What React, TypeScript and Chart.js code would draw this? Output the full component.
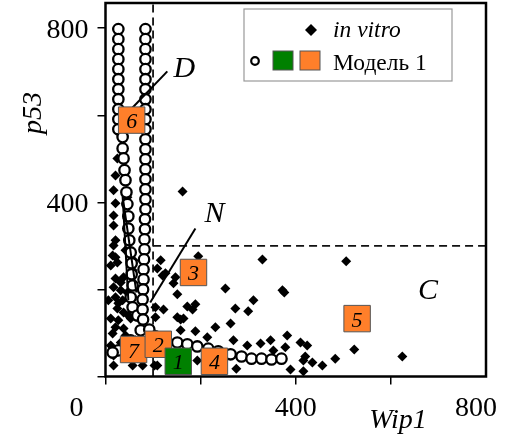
import React, { useEffect, useRef } from 'react';
import { Chart, registerables } from 'chart.js';
Chart.register(...registerables);

const FONT = '"Liberation Serif", "Times New Roman", serif';

// axis ranges and ticks
const X_MAX = 800;
const Y_MAX = 858;
const xTickValues = [0, 200, 400, 600];
const yTickValues = [0, 200, 400, 600, 800];
const xTickLabels = ['0', '400', '800'];
const xTickLabelValues = [0, 400, 800];
const yTickLabels = ['800', '400'];
const yTickLabelValues = [800, 400];

// in vitro measurements
const vitroWip1 = [
  162, 116, 195, 330, 506, 126, 147, 143, 252, 372, 376, 151, 311, 172, 189, 183, 273, 300, 158, 263,
  231, 189, 158, 214, 269, 382, 326, 347, 298, 410, 424, 378, 353, 420, 416, 435, 456, 483, 523, 624,
  389, 416, 275, 103, 193, 122, 164, 105, 105, 151, 109, 78, 57, 17,
  25, 21, 17, 46, 21, 17, 17, 21, 17, 21, 25, 21, 38, 57, 109, 120, 17, 32, 21, 36,
  25, 38, 11, 27, 48, 21, 38, 15, 11, 17, 48, 42, 59,
  32, 46, 27, 53, 42, 63, 32, 6, 11, 15,
];
const vitroP53 = [
  425, 267, 276, 269, 265, 237, 228, 214, 202, 198, 193, 189, 175, 161, 166, 154, 156, 150, 131, 122,
  113, 104, 106, 90, 83, 94, 76, 83, 71, 78, 71, 67, 60, 46, 37, 32, 25, 41, 62, 46,
  16, 12, 18, 25, 37, 154, 133, 159, 136, 136, 25, 25, 25, 25,
  501, 462, 428, 412, 398, 370, 347, 313, 301, 274, 262, 225, 228, 244, 248, 232, 205, 198, 182, 175,
  156, 147, 133, 129, 140, 113, 110, 99, 71, 48, 336, 290, 267,
  216, 193, 168, 133, 94, 83, 78, 175, 255, 278,
];

// model trajectory 1 (right column, then along the bottom)
const modelAWip1 = [
  84, 84, 84, 84, 84, 84, 84, 84, 84, 84, 84, 84, 84, 84, 84, 84, 84, 84, 84, 83,
  83, 82, 82, 81, 80, 80, 79, 78, 78, 79,
  92, 105, 126, 151, 172, 193, 216, 237, 263, 286, 307, 328, 349, 370,
];
const modelAP53 = [
  798, 775, 752, 729, 706, 683, 660, 637, 614, 591, 568, 545, 522, 499, 476, 453, 430, 407, 384, 361,
  338, 315, 292, 269, 246, 223, 200, 177, 154, 131,
  108, 92, 83, 78, 74, 69, 64, 58, 51, 46, 41, 41, 39, 41,
];
// model trajectory 2 (left column)
const modelBWip1 = [
  27, 27, 27, 27, 27, 27, 27, 27, 27, 27, 27, 36, 36, 38, 40, 42, 44, 46, 48, 48,
  50, 53, 55, 55, 57, 53, 57, 67, 74, 53, 27, 15,
];
const modelBP53 = [
  798, 775, 752, 729, 706, 683, 660, 637, 614, 591, 568, 550, 524, 501, 474, 451, 423, 396, 368, 340,
  313, 285, 260, 235, 209, 182, 159, 140, 106, 83, 60, 55,
];

// numbered model states
const boxLabels = ['6', '3', '7', '2', '1', '4', '5'];
const boxWip1 = [55, 185, 59, 111, 153, 229, 529];
const boxP53 = [589, 239, 62, 74, 35, 35, 133];
const boxKinds = ['o', 'o', 'o', 'o', 'g', 'o', 'o'];

// region labels
const regionLabels = ['D', 'N', 'C'];
const regionWip1 = [166, 229, 678];
const regionP53 = [710, 377, 202];

// annotation lines
const lineDWip1 = [130, 50];
const lineDP53 = [701, 610];
const lineNWip1 = [189, 94];
const lineNP53 = [340, 170];
const lineVWip1 = [48, 36, 65];
const lineVP53 = [175, 414, 193];

// threshold dashed lines
const thrWip1 = 100;
const thrP53 = 300;

const ORANGE = '#FF7F2A';
const GREEN = '#008000';

const pts = (xs: number[], ys: number[]) => xs.map((x, i) => ({ x, y: ys[i] }));

export default function App() {
  const ref = useRef<HTMLCanvasElement | null>(null);
  useEffect(() => {
    if (!ref.current) return;
    const overlay = {
      id: 'overlay',
      afterDatasetsDraw(chart: any) {
        const { ctx, chartArea: a, scales } = chart;
        const x = scales.x;
        const y = scales.y;
        ctx.save();
        ctx.fillStyle = '#000';
        ctx.textAlign = 'center';
        ctx.textBaseline = 'alphabetic';
        // numbers inside boxes
        ctx.font = `italic 22px ${FONT}`;
        boxLabels.forEach((t, i) => {
          ctx.fillText(t, x.getPixelForValue(boxWip1[i]), y.getPixelForValue(boxP53[i]) + 8);
        });
        // region labels
        ctx.font = `italic 30px ${FONT}`;
        regionLabels.forEach((t, i) => {
          ctx.fillText(t, x.getPixelForValue(regionWip1[i]), y.getPixelForValue(regionP53[i]) + 10);
        });
        // frame
        ctx.lineWidth = 2.5;
        ctx.strokeStyle = '#000';
        ctx.strokeRect(a.left, a.top, a.right - a.left, a.bottom - a.top);

        // legend
        const lx = 244, ly = 9, lw = 208, lh = 72;
        ctx.fillStyle = '#fff';
        ctx.fillRect(lx, ly, lw, lh);
        ctx.lineWidth = 1.2;
        ctx.strokeStyle = '#999';
        ctx.strokeRect(lx, ly, lw, lh);
        // row 1 diamond
        ctx.fillStyle = '#000';
        ctx.beginPath();
        ctx.moveTo(311, 24);
        ctx.lineTo(317, 30);
        ctx.lineTo(311, 36);
        ctx.lineTo(305, 30);
        ctx.closePath();
        ctx.fill();
        ctx.textAlign = 'left';
        ctx.font = `italic 23.5px ${FONT}`;
        ctx.fillText('in vitro', 333, 37);
        // row 2
        ctx.beginPath();
        ctx.arc(255, 61, 3.8, 0, Math.PI * 2);
        ctx.fillStyle = '#fff';
        ctx.fill();
        ctx.lineWidth = 2.2;
        ctx.strokeStyle = '#000';
        ctx.stroke();
        ctx.lineWidth = 1;
        ctx.strokeStyle = '#555';
        ctx.fillStyle = GREEN;
        ctx.fillRect(273, 51, 20, 19);
        ctx.strokeRect(273, 51, 20, 19);
        ctx.fillStyle = ORANGE;
        ctx.fillRect(300, 51, 20, 19);
        ctx.strokeRect(300, 51, 20, 19);
        ctx.fillStyle = '#000';
        ctx.font = `23.5px ${FONT}`;
        ctx.fillText('Модель 1', 333, 70);

        // tick labels
        ctx.font = `28px ${FONT}`;
        ctx.textAlign = 'right';
        yTickLabels.forEach((t, i) => {
          ctx.fillText(t, a.left - 17, y.getPixelForValue(yTickLabelValues[i]) + 10);
        });
        ctx.textAlign = 'center';
        const xOffsets: Record<string, number> = { '0': -29, '400': 0, '800': -10 };
        xTickLabels.forEach((t, i) => {
          ctx.fillText(t, x.getPixelForValue(xTickLabelValues[i]) + xOffsets[t], a.bottom + 39);
        });
        // axis titles
        ctx.font = `italic 28px ${FONT}`;
        ctx.fillText('Wip1', 398, 428);
        ctx.save();
        ctx.translate(41, 113);
        ctx.rotate(-Math.PI / 2);
        ctx.fillText('p53', 0, 0);
        ctx.restore();
        ctx.restore();
      },
    };

    const lineDs = (xs: number[], ys: number[], extra: any = {}) => ({
      data: pts(xs, ys),
      showLine: true,
      borderColor: '#000',
      borderWidth: 2,
      pointRadius: 0,
      fill: false,
      ...extra,
    });

    const chart = new Chart(ref.current, {
      type: 'scatter',
      data: {
        datasets: [
          {
            data: pts(boxWip1, boxP53),
            pointStyle: 'rect',
            pointRadius: 18.7,
            backgroundColor: boxKinds.map((k) => (k === 'g' ? GREEN : ORANGE)),
            borderColor: '#555',
            borderWidth: 1,
          } as any,
          lineDs(lineDWip1, lineDP53),
          lineDs(lineNWip1, lineNP53),
          lineDs(lineVWip1, lineVP53),
          {
            data: pts(modelAWip1, modelAP53),
            pointStyle: 'circle',
            pointRadius: 5.2,
            backgroundColor: '#fff',
            borderColor: '#000',
            borderWidth: 2.3,
          },
          {
            data: pts(modelBWip1, modelBP53),
            pointStyle: 'circle',
            pointRadius: 5.2,
            backgroundColor: '#fff',
            borderColor: '#000',
            borderWidth: 2.3,
          },
          {
            data: pts(vitroWip1, vitroP53),
            pointStyle: 'rectRot',
            pointRadius: 5,
            backgroundColor: '#000',
            borderColor: '#000',
            borderWidth: 0,
          },
          lineDs([thrWip1, thrWip1], [0, Y_MAX], { borderWidth: 1.8, borderColor: '#111', borderDash: [8, 5] }),
          lineDs([thrWip1, X_MAX], [thrP53, thrP53], { borderWidth: 1.8, borderColor: '#111', borderDash: [8, 5] }),
        ],
      },
      options: {
        animation: false,
        responsive: false,
        devicePixelRatio: 1,
        events: [],
        layout: { autoPadding: false, padding: { top: 3, right: 20, left: 0, bottom: 0 } },
        plugins: { legend: { display: false }, tooltip: { enabled: false } },
        scales: {
          x: {
            type: 'linear',
            min: 0,
            max: X_MAX,
            afterBuildTicks: (s: any) => {
              s.ticks = xTickValues.map((v) => ({ value: v }));
            },
            afterFit: (s: any) => {
              s.height = 61.5;
            },
            ticks: { display: false },
            border: { display: false },
            grid: { drawOnChartArea: false, drawTicks: true, tickLength: 8, color: '#000', lineWidth: 1.5 },
          },
          y: {
            type: 'linear',
            min: 0,
            max: Y_MAX,
            afterBuildTicks: (s: any) => {
              s.ticks = yTickValues.map((v) => ({ value: v }));
            },
            afterFit: (s: any) => {
              s.width = 105.5;
            },
            ticks: { display: false },
            border: { display: false },
            grid: { drawOnChartArea: false, drawTicks: true, tickLength: 8, color: '#000', lineWidth: 1.5 },
          },
        },
      } as any,
      plugins: [overlay],
    });
    return () => chart.destroy();
  }, []);

  return (
    <div style={{ position: 'fixed', left: 0, top: 0, width: 506, height: 438, background: '#fff' }}>
      <canvas ref={ref} width={506} height={438} style={{ display: 'block' }} />
    </div>
  );
}
